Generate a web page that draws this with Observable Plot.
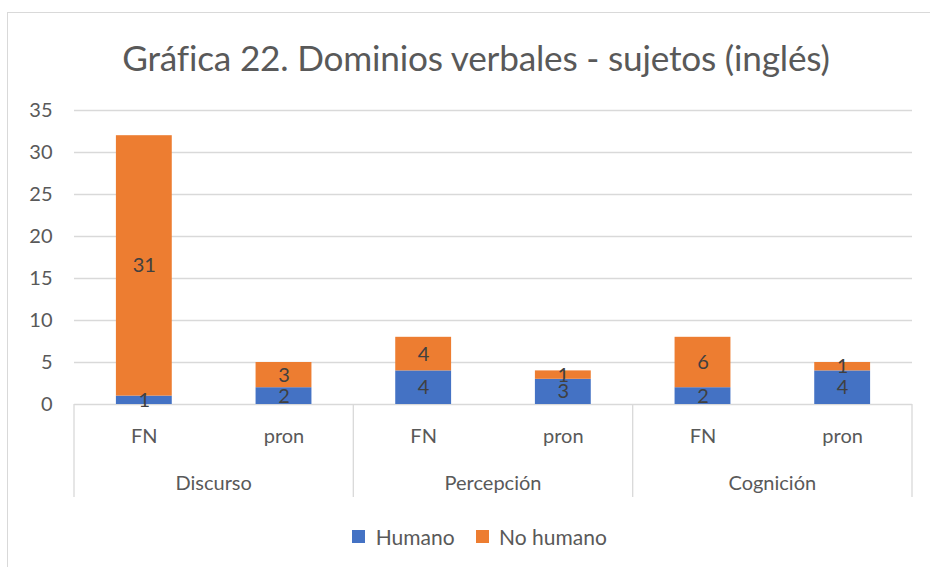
<!DOCTYPE html>
<html>
<head>
<meta charset="utf-8">
<script src="https://cdn.jsdelivr.net/npm/d3@7"></script>
<script src="https://cdn.jsdelivr.net/npm/@observablehq/plot@0.6"></script>
<style>
  html, body { margin: 0; padding: 0; background: #fff; }
  #wrap { position: relative; width: 930px; height: 567px; overflow: hidden; font-family: Lato, "Open Sans", sans-serif; color: #595959; }
  #frame { position: absolute; left: 7px; top: 12px; width: 960px; height: 620px; border: 1px solid #d9d9d9; pointer-events: none; }
  #title { height: 96px; box-sizing: border-box; padding-top: 37px; padding-left: 22px; line-height: 40px; text-align: center; font-size: 35.2px; color: #595959; letter-spacing: -0.2px; }
  #legend { height: 51px; display: flex; justify-content: center; padding-left: 50px; box-sizing: border-box; }
</style>
</head>
<body>
<div id="wrap">
  <div id="title">Gráfica 22. Dominios verbales - sujetos (inglés)</div>
  <div id="chart"></div>
  <div id="legend"></div>
  <div id="frame"></div>
</div>
<script>
const groups = ["Discurso", "Percepción", "Cognición"];
const subjects = ["FN", "pron"];
const seriesNames = ["Humano", "No humano"];
const humano = [1, 2, 4, 3, 2, 4];
const noHumano = [31, 3, 4, 1, 6, 1];
const yTicks = [0, 5, 10, 15, 20, 25, 30, 35];
const colors = ["#4472C4", "#ED7D31"];

const SEP = "·";
const keys = [];
groups.forEach(g => subjects.forEach(s => keys.push(g + SEP + s)));

const rows = [];
[humano, noHumano].forEach((vals, si) => {
  vals.forEach((v, i) => rows.push({key: keys[i], series: seriesNames[si], value: v}));
});

const chart = Plot.plot({
  width: 930,
  height: 420,
  marginLeft: 74,
  marginRight: 18,
  marginTop: 14,
  marginBottom: 112,
  style: {fontFamily: "Lato, 'Open Sans', sans-serif", fontSize: "20px", color: "#595959", background: "transparent", overflow: "visible"},
  x: {domain: keys, paddingInner: 0.6, paddingOuter: 0.3, round: false, label: null, tickSize: 0, tickPadding: 24,
      tickFormat: d => d.split(SEP)[1]},
  y: {domain: [0, 35], ticks: yTicks, tickSize: 0, tickPadding: 22, label: null},
  color: {domain: seriesNames, range: colors},
  marks: [
    Plot.ruleY(yTicks, {stroke: "#d9d9d9", strokeWidth: 1.3}),
    Plot.barY(rows, {x: "key", y: "value", fill: "series"}),
    Plot.text(rows, Plot.stackY({x: "key", y: "value", z: "series", text: d => String(d.value), fill: "#404040", fontSize: 20}))
  ]
});
document.getElementById("chart").appendChild(chart);

// group dividers and group labels, positioned from Plot's own scales
const xs = chart.scale("x");
const ys = chart.scale("y");
const y0 = ys.apply(0);
const half = (xs.step - xs.bandwidth) / 2;
const svg = d3.select(chart);
const g = svg.append("g").attr("class", "groups");
const bounds = new Set();
groups.forEach((grp, gi) => {
  const first = xs.apply(grp + SEP + subjects[0]);
  const last = xs.apply(grp + SEP + subjects[subjects.length - 1]);
  const left = first - half;
  const right = last + xs.bandwidth + half;
  bounds.add(Math.round(left * 10) / 10);
  bounds.add(Math.round(right * 10) / 10);
  g.append("text")
    .attr("x", (left + right) / 2)
    .attr("y", y0 + 79)
    .attr("dy", "0.35em")
    .attr("text-anchor", "middle")
    .attr("fill", "#595959")
    .attr("font-size", 20)
    .text(grp);
});
bounds.forEach(bx => {
  g.append("line")
    .attr("x1", bx).attr("x2", bx)
    .attr("y1", y0).attr("y2", y0 + 93)
    .attr("stroke", "#d9d9d9").attr("stroke-width", 1.3);
});

const legend = chart.legend("color", {swatchSize: 13, style: {fontFamily: "Lato, 'Open Sans', sans-serif", fontSize: "21px", color: "#595959"}});
document.getElementById("legend").appendChild(legend);
</script>
</body>
</html>
